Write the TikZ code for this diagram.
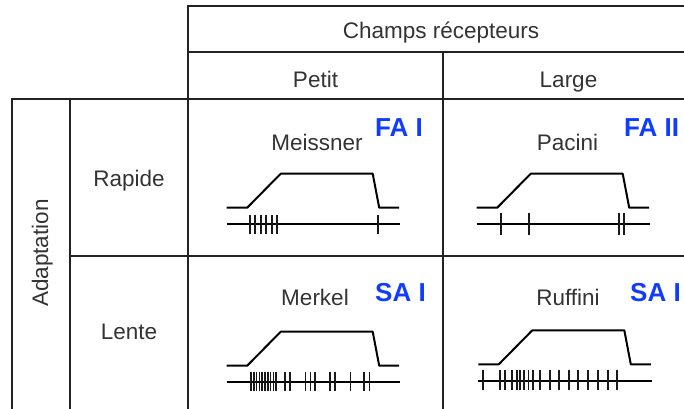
\documentclass[tikz,border=0pt]{standalone}
\usepackage{fontspec}
\setmainfont{Liberation Sans}
\definecolor{ink}{HTML}{222222}
\definecolor{labelgray}{HTML}{333333}
\definecolor{typeblue}{HTML}{0F3CFF}
\tikzset{
  rule/.style={draw=ink, line width=2pt},
  head/.style={text=labelgray, font=\fontsize{22.5}{27}\selectfont, inner sep=0pt, anchor=base},
  typelabel/.style={text=typeblue, font=\fontsize{26}{30}\selectfont\bfseries, inner sep=0pt, anchor=base west},
  trace/.style={draw=black, line width=2pt, line join=round},
  spike/.style={draw=black!90, line width=1.7pt},
  stimulus/.pic={
    \draw[trace] (0,0) -- (20.5,0) -- (54,-34) -- (146,-34) -- (152.5,0) -- (172.5,0);
    \draw[trace] (0,16.3) -- (173.5,16.3);
  }
}
\begin{document}
\begin{tikzpicture}[x=1pt,y=-1pt]
\useasboundingbox (0,0) rectangle (684,408);
\clip (0,0) rectangle (684,408);

% table rules
\draw[rule] (188,412) -- (188,5.5) -- (700,5.5);
\draw[rule] (188,52) -- (700,52);
\draw[rule] (12,412) -- (12,98.5) -- (700,98.5);
\draw[rule] (70,98.5) -- (70,412);
\draw[rule] (443,52) -- (443,412);
\draw[rule] (70,256) -- (700,256);

% headings
\node[head] (champs) at (441,38.3) {Champs récepteurs};
\node[head] (petit) at (315.5,87) {Petit};
\node[head] (large) at (568.5,87) {Large};
\node[head] (rapide) at (129,186.5) {Rapide};
\node[head] (lente) at (129,339) {Lente};
\node[head, rotate=90] (adaptation) at (48,253) {Adaptation};

% receptor names
\node[head] (meissner) at (317,150) {Meissner};
\node[head] (pacini) at (567.5,150) {Pacini};
\node[head] (merkel) at (315,305) {Merkel};
\node[head] (ruffini) at (568,305) {Ruffini};

% fibre types
\node[typelabel] (fa1) at (375,136.5) {FA I};
\node[typelabel] (fa2) at (624,136.5) {FA II};
\node[typelabel] (sa1) at (375,301) {SA I};
\node[typelabel] (sa2) at (630,301) {SA I};

% Meissner: stimulus and discharge
\pic (meissnerwave) at (226.7,207.7) {stimulus};
\foreach \s in {250,255.3,261,266.3,271.7,277.3,378.3}
  \draw[spike] (\s,214.5) -- (\s,234);

% Pacini
\pic (paciniwave) at (476.7,207.7) {stimulus};
\foreach \s in {501,529.3,619,624}
  \draw[spike] (\s,213) -- (\s,235);

% Merkel
\pic (merkelwave) at (226.7,365.7) {stimulus};
\foreach \s in {251,253.8,256.6,259.4,262.2,265,267.8,270.6,273.4,276.2,
                285.3,290,305.5,310.5,315.3,330,335,350.5,364,369.5}
  \draw[spike] (\s,371.5) -- (\s,391);

% Ruffini
\pic (ruffiniwave) at (478.3,364.3) {stimulus};
\foreach \s in {483,500,505,511.7,516.7,520.3,524.3,528.5,533.3,540,
                550,559.3,569.3,578.3,588.3,598.3,608.3,616.7}
  \draw[spike] (\s,369.5) -- (\s,390);
\end{tikzpicture}
\end{document}
